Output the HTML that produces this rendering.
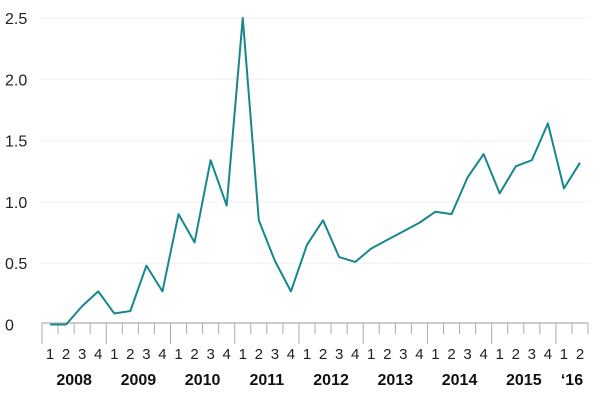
<!DOCTYPE html>
<html><head><meta charset="utf-8"><style>
body{margin:0;background:#fff}
svg{display:block;font-family:"Liberation Sans",sans-serif}
</style></head><body>
<svg id="c" width="600" height="400"></svg>
<script>
const years=["2008","2009","2010","2011","2012","2013","2014","2015","‘16"];
const quarterLabels=["1","2","3","4"];
const yTicks=[0,0.5,1.0,1.5,2.0,2.5];
const yTickLabels=["0","0.5","1.0","1.5","2.0","2.5"];
const values=[0,0,0.15,0.27,0.09,0.11,0.48,0.27,0.90,0.67,1.34,0.97,2.50,0.85,0.52,0.27,0.65,0.85,0.55,0.51,0.62,0.69,0.76,0.83,0.92,0.90,1.20,1.39,1.07,1.29,1.34,1.64,1.11,1.32];
const svg=document.getElementById('c');
const NS='http://www.w3.org/2000/svg';
const x0=42,qw=16.06,y0=324.5,yPer=122.6;
const x=i=>x0+qw*(i+0.5);
const xe=i=>x0+qw*i;
const y=v=>y0-v*yPer;
function mk(t,a){const e=document.createElementNS(NS,t);for(const k in a)e.setAttribute(k,a[k]);svg.appendChild(e);return e;}
yTicks.forEach((v,i)=>{
 if(v>0){const g=mk('line',{x1:40,x2:590,y1:y(v),y2:y(v),stroke:'#f0f0f0','stroke-width':1});
 
 }
 const t=mk('text',{x:5,y:y(v)+6,'font-size':16,fill:'#222'});
 t.textContent=yTickLabels[i];
 
 
});
const ax=mk('line',{x1:x0,x2:xe(values.length),y1:323,y2:323,stroke:'#bbb','stroke-width':1.5});


for(let i=0;i<=values.length;i++){
 const major=i%4===0;
 const tk=mk('line',{x1:xe(i),x2:xe(i),y1:323,y2:major?344:334,stroke:'#aaa','stroke-width':1});
 
 
}
for(let i=0;i<values.length;i++){
 const t=mk('text',{x:x(i),y:359,'font-size':15,fill:'#222','text-anchor':'middle'});
 t.textContent=quarterLabels[i%4];
 
 
}
years.forEach((yr,j)=>{
 const n=Math.min(4,values.length-j*4);
 const t=mk('text',{x:(xe(j*4)+xe(j*4+n))/2,y:385,'font-size':16,'font-weight':'bold',fill:'#111','text-anchor':'middle'});
 t.textContent=yr;
 
 
});
const p=mk('polyline',{points:values.map((v,i)=>x(i)+','+y(v)).join(' '),fill:'none',stroke:'#16878f','stroke-width':2,'stroke-linejoin':'round'});


</script>
</body></html>
